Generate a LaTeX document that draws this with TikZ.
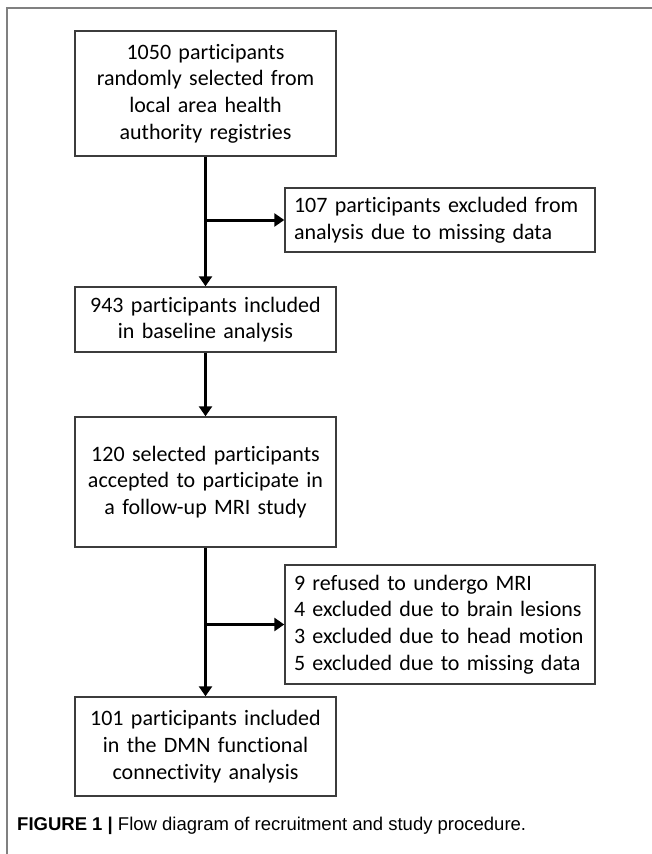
\documentclass[tikz,border=0pt]{standalone}
\usepackage{fontspec}
\setmainfont{Carlito}[Ligatures=NoCommon]
\newfontfamily\capfont{Liberation Sans}
\usetikzlibrary{arrows.meta}
\definecolor{framegray}{RGB}{128,128,128}
\definecolor{boxgray}{RGB}{60,60,60}
\tikzset{
  flowbox/.style={draw=boxgray, line width=1.4pt, align=center, inner xsep=10pt,
    text width=241pt, font=\fontsize{22}{26.7}\selectfont},
  exclbox/.style={draw=boxgray, line width=1.4pt, align=left, inner xsep=9pt,
    text width=292pt, minimum width=310pt, font=\fontsize{22}{26.7}\selectfont},
  arr/.style={line width=3pt, -{Triangle[length=10pt,width=13pt]}}
}
\begin{document}
\begin{tikzpicture}[x=1pt, y=-1pt]
			\useasboundingbox (0,0) rectangle (652,854);
			\draw[framegray, line width=1.5pt] (7,854) -- (7,8) -- (652,8);
			\node[flowbox, minimum height=125pt] (start) at (205.5,93.5) {1050 participants\\randomly selected from\\local area health\\authority registries};
			\node[exclbox, minimum height=64pt] (excl1) at (440,220) {107 participants excluded from\\analysis due to missing data};
			\node[flowbox, minimum height=65pt] (base) at (205.5,319.5) {943 participants included\\in baseline analysis};
			\node[flowbox, minimum height=130pt] (mri) at (205.5,482) {120 selected participants\\accepted to participate in\\a follow-up MRI study};
			\node[exclbox, minimum height=119pt] (excl2) at (440,624.5) {9 refused to undergo MRI\\4 excluded due to brain lesions\\3 excluded due to head motion\\5 excluded due to missing data};
			\node[flowbox, minimum height=99pt] (final) at (205.5,746.5) {101 participants included\\in the DMN functional\\connectivity analysis};
			\draw[arr] (start) -- (base);
			\draw[arr] (start.south |- excl1.west) -- (excl1.west);
			\draw[arr] (base) -- (mri);
			\draw[arr] (mri) -- (final);
			\draw[arr] (mri.south |- excl2.west) -- (excl2.west);
			\node[anchor=base west, inner sep=0pt, font=\capfont\fontsize{18.5}{22}\selectfont] (caption) at (17,830) {\textbf{FIGURE 1 |} Flow diagram of recruitment and study procedure.};
		\end{tikzpicture}
\end{document}
